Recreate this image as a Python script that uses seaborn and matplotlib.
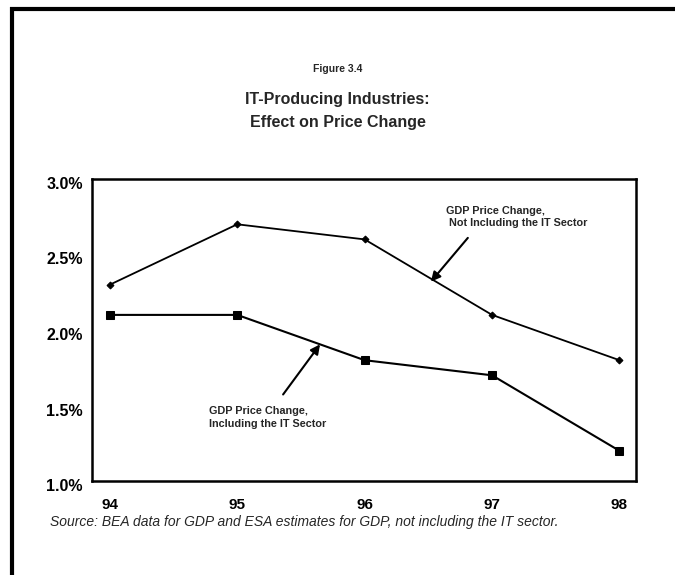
import pandas as pd
import matplotlib
matplotlib.use("Agg")
from matplotlib import pyplot as plt
from matplotlib.lines import Line2D
from matplotlib.ticker import FuncFormatter
from matplotlib.transforms import ScaledTranslation
import seaborn as sns

# chart data
years = [94, 95, 96, 97, 98]
not_incl_it = [2.3, 2.7, 2.6, 2.1, 1.8]   # GDP price change, not including the IT sector
incl_it = [2.1, 2.1, 1.8, 1.7, 1.2]       # GDP price change, including the IT sector
y_ticks = [1.0, 1.5, 2.0, 2.5, 3.0]

sns.set_style("white")
plt.rcParams['font.family'] = ['Liberation Sans Narrow', 'Liberation Sans', 'DejaVu Sans']

fig = plt.figure(figsize=(6.75, 5.75), dpi=100)
ax = fig.add_axes([92 / 675, 1 - 481 / 575, 544 / 675, 302 / 575])

data = pd.DataFrame({"year": years, "not_incl": not_incl_it, "incl": incl_it})

sns.lineplot(data=data, x="year", y="not_incl", ax=ax, color="black", lw=1.3,
             marker="D", markersize=3.5, markeredgecolor="black")
sns.lineplot(data=data, x="year", y="incl", ax=ax, color="black", lw=1.5,
             marker="s", markersize=6, markeredgecolor="black")

ax.set_xlim(93.86, 98.13)
ax.set_ylim(1.0, 3.0)
ax.set_xticks(years)
ax.set_yticks(y_ticks)
ax.yaxis.set_major_formatter(FuncFormatter(lambda v, p: f"{v:.1f}%"))
ax.set_xlabel("")
ax.set_ylabel("")

for s in ax.spines.values():
    s.set_linewidth(1.8)
    s.set_color("black")

ax.tick_params(axis="both", direction="in", length=7, width=1.8, colors="black")
ax.tick_params(axis="y", pad=6.5, labelsize=11.5)
ax.tick_params(axis="x", pad=12, labelsize=11)
shift = ScaledTranslation(0, -4 / 100, fig.dpi_scale_trans)
for lab in ax.get_yticklabels():
    lab.set_fontweight("bold")
    lab.set_transform(lab.get_transform() + shift)
for lab in ax.get_xticklabels():
    lab.set_fontweight("bold")

# annotations: arrows and labels
arrow = dict(arrowstyle="-|>", color="black", lw=1.5, mutation_scale=14, shrinkA=0, shrinkB=0)
ax.annotate("", xy=(96.52, 2.32), xytext=(96.81, 2.61), arrowprops=arrow)
ax.annotate("", xy=(95.65, 1.905), xytext=(95.36, 1.573), arrowprops=arrow)
ax.text(96.64, 2.75, "GDP Price Change,\n Not Including the IT Sector", fontsize=7.8,
        fontweight="bold", va="center", ha="left", linespacing=1.3)
ax.text(94.78, 1.42, "GDP Price Change,\nIncluding the IT Sector", fontsize=7.8,
        fontweight="bold", va="center", ha="left", linespacing=1.3)

# titles and source
fig.text(0.5, 1 - 69 / 575, "Figure 3.4", ha="center", va="center", fontsize=7.5, fontweight="bold")
fig.text(0.5, 1 - 111 / 575, "IT-Producing Industries:\nEffect on Price Change", ha="center",
         va="center", fontsize=11.5, fontweight="bold", linespacing=1.6)
fig.text(50 / 675, 1 - 522 / 575,
         "Source: BEA data for GDP and ESA estimates for GDP, not including the IT sector.",
         ha="left", va="center", fontsize=10, style="italic")

# page frame (top and left)
fig.add_artist(Line2D([10 / 675, 1], [1 - 9 / 575, 1 - 9 / 575], color="black", lw=3,
                      solid_capstyle="butt"))
fig.add_artist(Line2D([12 / 675, 12 / 675], [0, 1 - 7 / 575], color="black", lw=3,
                      solid_capstyle="butt"))

plt.savefig("out.png", dpi=100)
